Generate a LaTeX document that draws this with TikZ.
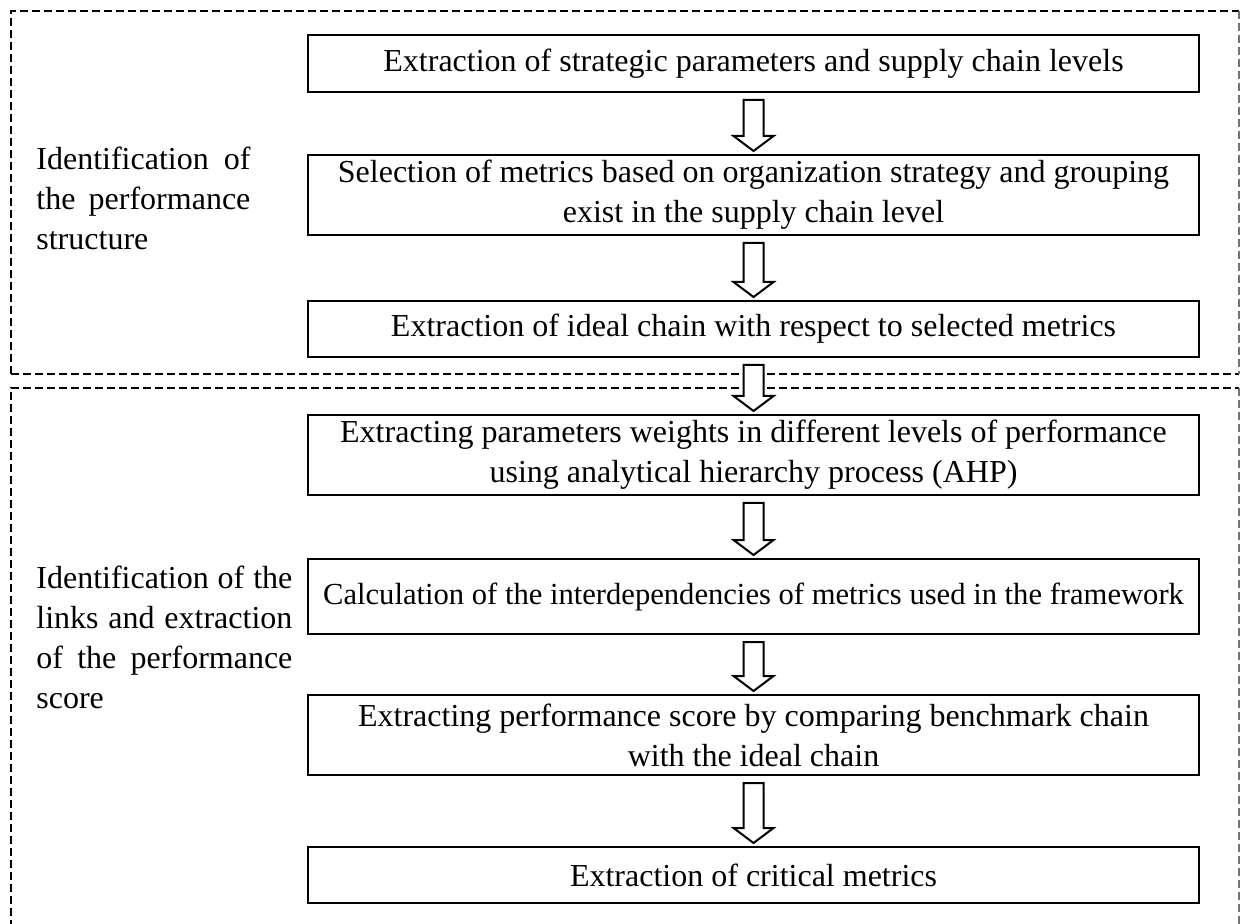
\documentclass[tikz,border=0pt]{standalone}
\usepackage{fontspec}
\setmainfont{Liberation Serif}
\usetikzlibrary{calc}
\begin{document}
\begin{tikzpicture}[x=0.5pt,y=-0.5pt,
  stepbox/.style={draw=black, line width=1pt, fill=white, minimum width=445.5pt,
    inner sep=0pt, align=center, font=\fontsize{16}{20}\selectfont},
  framedash/.style={dash pattern=on 4pt off 2pt, line width=1pt},
  frameside/.style={dash pattern=on 4pt off 2pt, line width=0.6pt, draw=black!55},
  sidelabel/.style={anchor=west, inner sep=0pt, align=justify,
    font=\fontsize{16}{20}\selectfont},
  blockarrow/.style={line width=1pt, fill=white, line join=miter},
]
\useasboundingbox (0,0) rectangle (1241,924);

% dashed phase frames
\draw[framedash] (11,374) -- (11,11) -- (1239,11);
\draw[framedash] (11,374) -- (1239,374);
\draw[frameside] (1239,11) -- (1239,374);
\draw[framedash] (11,940) -- (11,388) -- (1239,388);
\draw[frameside] (1239,388) -- (1239,940);

% phase labels
\node[sidelabel, text width=107pt] (p1) at (36,198)
  {Identification of\linebreak the performance\linebreak structure};
\node[sidelabel, text width=128pt] (p2) at (36,637)
  {Identification of the\linebreak links and extraction\linebreak of the performance\linebreak score};

% process steps
\node[stepbox, minimum height=28.5pt] (s1) at (753.5,63.5)
  {Extraction of strategic parameters and supply chain levels};
\node[stepbox, minimum height=40pt] (s2) at (753.5,195)
  {Selection of metrics based on organization strategy and grouping\\exist in the supply chain level};
\node[stepbox, minimum height=28pt] (s3) at (753.5,329)
  {Extraction of ideal chain with respect to selected metrics};
\node[stepbox, minimum height=40pt] (s4) at (753.5,455)
  {Extracting parameters weights in different levels of performance\\using analytical hierarchy process (AHP)};
\node[stepbox, minimum height=37.5pt, font=\fontsize{15.3}{20}\selectfont] (s5) at (753.5,596.5)
  {Calculation of the interdependencies of metrics used in the framework};
\node[stepbox, minimum height=40pt] (s6) at (753.5,735)
  {Extracting performance score by comparing benchmark chain\\with the ideal chain};
\node[stepbox, minimum height=28pt] (s7) at (753.5,875)
  {Extraction of critical metrics};

% hollow block arrows between steps
\newcommand\flowarrow[2]{%
  \draw[blockarrow] let \p1=($(#1.south)+(0,7)$), \p2=($(#2.north)+(0,-3)$) in
    (\x1-5pt,\y1) -- (\x1+5pt,\y1) -- (\x1+5pt,\y2+7.5pt) -- (\x1+10pt,\y2+7.5pt)
    -- (\x1,\y2) -- (\x1-10pt,\y2+7.5pt) -- (\x1-5pt,\y2+7.5pt) -- cycle;}
\flowarrow{s1}{s2}
\flowarrow{s2}{s3}
\flowarrow{s3}{s4}
\flowarrow{s4}{s5}
\flowarrow{s5}{s6}
\flowarrow{s6}{s7}
\end{tikzpicture}
\end{document}
